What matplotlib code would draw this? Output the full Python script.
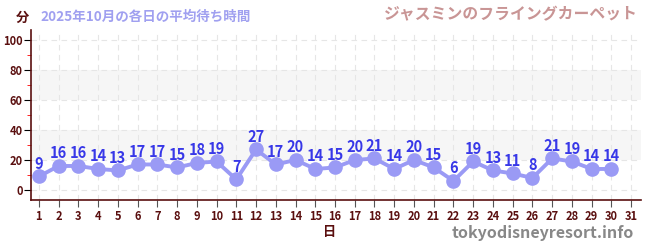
import matplotlib
matplotlib.use("Agg")
import matplotlib.pyplot as plt
from matplotlib.ticker import MultipleLocator

plt.rcParams['font.family'] = ['Noto Sans CJK JP', 'DejaVu Sans']

# 各日の平均待ち時間（分）
days = list(range(1, 31))
waits = [9, 16, 16, 14, 13, 17, 17, 15, 18, 19, 7, 27, 17, 20, 14,
         15, 20, 21, 14, 20, 15, 6, 19, 13, 11, 8, 21, 19, 14, 14]
title_left = "2025年10月の各日の平均待ち時間"
title_right = "ジャスミンのフライングカーペット"
watermark = "tokyodisneyresort.info"

dark = '#5a0f0f'

fig = plt.figure(figsize=(6.5, 2.5), dpi=100)
ax = fig.add_axes([31/650, 50/250, 610/650, 170/250])

# 背景の帯
for lo, hi in [(20, 40), (60, 80)]:
    ax.axhspan(lo, hi, color='#f6f6f6', zorder=0, lw=0)

ax.plot(days, waits, color='#9a9af5', lw=2.8, marker='o', markersize=9.5,
        zorder=3)
for d, w in zip(days, waits):
    ax.text(d, w + 3, str(w), ha='center', va='bottom', fontsize=10.5,
            fontweight='bold', color='#3838e8', zorder=4)

ax.set_xlim(0.6, 31.5)
ax.set_ylim(-6.7, 106.7)
ax.set_xticks(range(1, 32))
ax.yaxis.set_major_locator(MultipleLocator(20))
ax.yaxis.set_minor_locator(MultipleLocator(10))
ax.grid(True, which='major', color='#e6e6e6', ls=(0, (5, 4)), lw=0.8)

for s in ['top', 'right']:
    ax.spines[s].set_visible(False)
for s in ['left', 'bottom']:
    ax.spines[s].set_color(dark)
    ax.spines[s].set_linewidth(1.2)

ax.tick_params(axis='y', which='major', length=5, color='black',
               labelsize=8, labelcolor=dark, pad=1)
ax.tick_params(axis='y', which='minor', length=3, color='red')
ax.tick_params(axis='x', length=5, color='#555555', labelsize=8,
               labelcolor=dark, pad=2)
for lab in ax.get_xticklabels() + ax.get_yticklabels():
    lab.set_fontweight('bold')

fig.text(22/650, 1 - 18/250, "分", fontsize=9.5, fontweight='bold',
         color=dark, ha='center', va='center')
fig.text(40/650, 1 - 17/250, title_left, fontsize=9.75, fontweight='bold',
         color='#a0a0f0', ha='left', va='center')
fig.text(638/650, 1 - 14/250, title_right, fontsize=11.4, fontweight='bold',
         color='#c99595', ha='right', va='center')
fig.text(330/650, 1 - 232/250, "日", fontsize=9.5, fontweight='bold',
         color=dark, ha='center', va='center')
fig.text(634/650, 1 - 233/250, watermark, fontsize=11.5, fontweight='bold',
         color='#888888', ha='right', va='center')

fig.savefig('out.png', dpi=100)
